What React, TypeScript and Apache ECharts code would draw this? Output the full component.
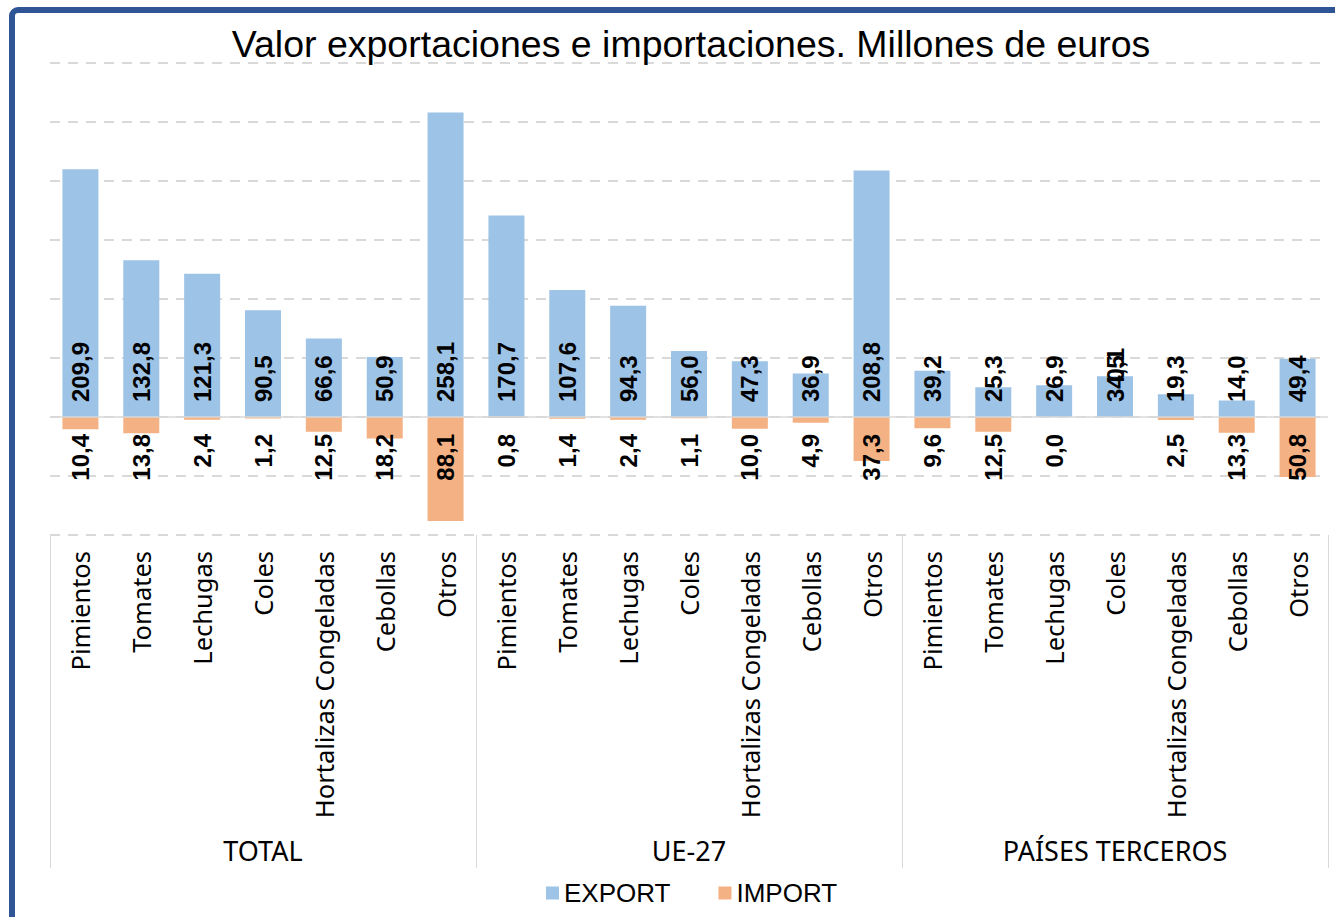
import React, { useEffect, useRef } from 'react';
import * as echarts from 'echarts';

const products = ['Pimientos', 'Tomates', 'Lechugas', 'Coles', 'Hortalizas Congeladas', 'Cebollas', 'Otros'];
const groups = ['TOTAL', 'UE-27', 'PAÍSES TERCEROS'];
const exportTotal = [209.9, 132.8, 121.3, 90.5, 66.6, 50.9, 258.1];
const exportUE = [170.7, 107.6, 94.3, 56.0, 47.3, 36.9, 208.8];
const exportPT = [39.2, 25.3, 26.9, 34.5, 19.3, 14.0, 49.4];
const importTotal = [10.4, 13.8, 2.4, 1.2, 12.5, 18.2, 88.1];
const importUE = [0.8, 1.4, 2.4, 1.1, 10.0, 4.9, 37.3];
const importPT = [9.6, 12.5, 0.0, 0.1, 2.5, 13.3, 50.8];
const yMin = -100;
const yMax = 300;
const yStep = 50;

const categories = [...products, ...products, ...products];
const exportValues = [...exportTotal, ...exportUE, ...exportPT];
const importValues = [...importTotal, ...importUE, ...importPT];
const movedLabelIndex = 17; // Coles, PAÍSES TERCEROS (label dragged up in the original)

const TXT = 'Liberation Sans, Arial, sans-serif';
const AXF = 'Noto Sans, Open Sans, sans-serif';

export default function App() {
  const ref = useRef<HTMLDivElement>(null);
  useEffect(() => {
    document.body.style.margin = '0';
    const chart = echarts.init(ref.current!, null, { renderer: 'svg' });
    const fmt = (p: any) => Math.abs(Number(p.value)).toFixed(1).replace('.', ',');
    const labelBase = {
      show: true,
      rotate: 90,
      verticalAlign: 'middle',
      fontFamily: TXT,
      fontWeight: 'bold',
      fontSize: 24,
      color: '#000',
      formatter: fmt,
    };
    chart.setOption({
      animation: false,
      backgroundColor: '#fff',
      title: {
        text: 'Valor exportaciones e importaciones. Millones de euros',
        left: 686,
        top: 20,
        textAlign: 'center',
        textStyle: { fontSize: 37.5, fontWeight: 'normal', fontFamily: TXT, color: '#000' },
      },
      legend: {
        data: ['EXPORT', 'IMPORT'],
        left: 541,
        top: 875,
        icon: 'rect',
        itemWidth: 13,
        itemHeight: 13,
        itemGap: 48,
        textStyle: { fontSize: 26, fontFamily: TXT, color: '#000' },
      },
      grid: { left: 50, right: 7, top: 63, bottom: 382, containLabel: false },
      xAxis: [
        {
          type: 'category',
          data: categories,
          position: 'bottom',
          axisLine: { show: false },
          axisTick: { show: false },
          axisLabel: { interval: 0, rotate: 90, margin: 16, fontSize: 25.5, fontFamily: AXF, color: '#000' },
        },
        {
          type: 'category',
          data: groups,
          position: 'bottom',
          axisLine: { show: false },
          axisTick: { show: true, interval: 0, length: 333, lineStyle: { color: '#D9D9D9', width: 1 } },
          axisLabel: { interval: 0, margin: 302, fontSize: 27, fontFamily: AXF, color: '#000' },
          splitLine: { show: false },
        },
      ],
      yAxis: {
        type: 'value',
        min: yMin,
        max: yMax,
        interval: yStep,
        axisLabel: { show: false },
        axisLine: { show: false },
        axisTick: { show: false },
        splitLine: { show: true, lineStyle: { color: '#D9D9D9', width: 2, type: [10, 8] } },
      },
      graphic: [
        {
          type: 'rect',
          silent: true,
          z: 100,
          shape: { x: 12, y: 10, width: 2000, height: 2000, r: 6 },
          style: { fill: 'none', stroke: '#2F5597', lineWidth: 6 },
        },
      ],
      series: [
        {
          name: 'EXPORT',
          type: 'bar',
          xAxisIndex: 0,
          data: exportValues,
          barWidth: 36,
          barGap: '-100%',
          itemStyle: { color: '#9DC3E6' },
          label: { ...labelBase, position: 'insideBottom', distance: 15, align: 'left' },
          markLine: {
            silent: true,
            symbol: 'none',
            label: { show: false },
            lineStyle: { color: '#D9D9D9', width: 1.5, type: 'solid' },
            data: [{ yAxis: 0 }],
          },
        },
        {
          name: 'IMPORT',
          type: 'bar',
          xAxisIndex: 0,
          data: importValues.map((v, i) =>
            i === movedLabelIndex
              ? { value: -v, labelLine: { show: true, lineStyle: { color: '#A6A6A6', width: 1 } } }
              : -v
          ),
          barWidth: 36,
          barGap: '-100%',
          itemStyle: { color: '#F4B183' },
          label: { ...labelBase, position: 'insideTop', distance: 17, align: 'right' },
          labelLayout: (params: any) => (params.dataIndex === movedLabelIndex ? { dx: 86 } : {}),
        },
      ],
    });
    return () => chart.dispose();
  }, []);
  return (
    <div
      ref={ref}
      style={{ width: 1335, height: 917, position: 'absolute', left: 0, top: 0, background: '#fff' }}
    />
  );
}
